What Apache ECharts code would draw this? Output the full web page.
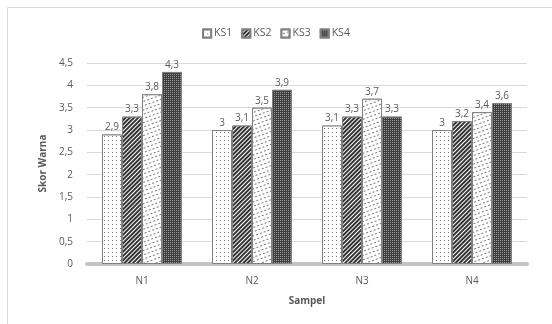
<!DOCTYPE html>
<html><head><meta charset="utf-8">
<script src="https://cdn.jsdelivr.net/npm/echarts@6/dist/echarts.min.js"></script>
<style>html,body{margin:0;padding:0;background:#fff}#c{width:552px;height:324px}</style>
</head><body><div id="c"></div>
<script>
const categories = ['N1','N2','N3','N4'];
const seriesNames = ['KS1','KS2','KS3','KS4'];
const ks1 = [2.9, 3.0, 3.1, 3.0];
const ks2 = [3.3, 3.1, 3.3, 3.2];
const ks3 = [3.8, 3.5, 3.7, 3.4];
const ks4 = [4.3, 3.9, 3.3, 3.6];
const yTicks = {min: 0, max: 4.5, interval: 0.5};

const fmt = v => String(v).replace('.', ',');
const styles = [
  {color:'#ffffff', decal:{symbol:'rect', color:'#777', backgroundColor:'#fff', dashArrayX:[1,3], dashArrayY:[1,3], symbolSize:1}},
  {color:'#ffffff', decal:{symbol:'rect', color:'#333', backgroundColor:'#fff', dashArrayX:[1,0], dashArrayY:[1.3,1], rotation:-Math.PI/4, symbolSize:1}},
  {color:'#ffffff', decal:{symbol:'rect', color:'#777', backgroundColor:'#fff', dashArrayX:[2,2], dashArrayY:[1,2.5], rotation:-0.35, symbolSize:1}},
  {color:'#505050', decal:{symbol:'rect', color:'#9a9a9a', backgroundColor:'#3e3e3e', dashArrayX:[1,1], dashArrayY:[1,1], symbolSize:1}}
];
const data = [ks1, ks2, ks3, ks4];
const chart = echarts.init(document.getElementById('c'));
chart.setOption({
  animation:false,
  textStyle:{fontFamily:'Open Sans'},
  graphic:[{type:'rect', shape:{x:7.5,y:7.5,width:560,height:330}, style:{fill:'none', stroke:'#d9d9d9', lineWidth:1}}],
  legend:{top:23, left:'center', itemWidth:8, itemHeight:8, itemGap:9, icon:'rect',
    textStyle:{color:'#595959', fontSize:10.5, padding:[0,0,0,-2]}, data:seriesNames},
  grid:{left:87, right:25, top:63, bottom:60},
  xAxis:{type:'category', data:categories,
    axisLine:{lineStyle:{color:'#c4c4c4', width:4}}, axisTick:{show:false},
    axisLabel:{color:'#595959', fontSize:10, margin:12},
    name:'Sampel', nameLocation:'middle', nameGap:32,
    nameTextStyle:{color:'#595959', fontSize:10, fontWeight:'bold'}},
  yAxis:{type:'value', min:yTicks.min, max:yTicks.max, interval:yTicks.interval,
    axisLine:{show:false}, axisTick:{show:false},
    splitLine:{lineStyle:{color:'#d9d9d9'}},
    axisLabel:{color:'#595959', fontSize:10, margin:14, formatter:fmt},
    name:'Skor Warna', nameLocation:'middle', nameGap:38, nameRotate:90,
    nameTextStyle:{color:'#595959', fontSize:10, fontWeight:'bold'}},
  series: seriesNames.map((n,i)=>({
    name:n, type:'bar', data:data[i], barWidth:20, barGap:'0%',
    itemStyle:{color:styles[i].color, decal:styles[i].decal, borderColor:'#808080', borderWidth:1},
    label:{show:true, position:'top', distance:2, color:'#595959', fontSize:10, formatter:p=>fmt(p.value)}
  }))
});
</script></body></html>
